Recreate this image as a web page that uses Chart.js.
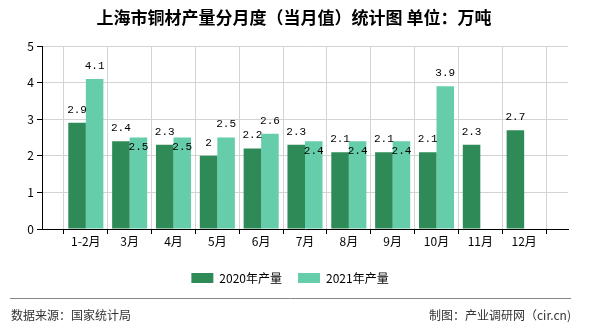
<!DOCTYPE html>
<html>
<head>
<meta charset="utf-8">
<script src="https://cdn.jsdelivr.net/npm/chart.js@4/dist/chart.umd.min.js"></script>
<style>
html,body{margin:0;padding:0;background:#fff;}
#wrap{width:590px;height:330px;position:relative;}
</style>
</head>
<body>
<div id="wrap"><canvas id="c" width="590" height="330"></canvas></div>
<script>
const titleText = '上海市铜材产量分月度（当月值）统计图 单位：万吨';
const categories = ['1-2月','3月','4月','5月','6月','7月','8月','9月','10月','11月','12月'];
const series2020Name = '2020年产量';
const series2021Name = '2021年产量';
const values2020 = [2.9, 2.4, 2.3, 2, 2.2, 2.3, 2.1, 2.1, 2.1, 2.3, 2.7];
const values2021 = [4.1, 2.5, 2.5, 2.5, 2.6, 2.4, 2.4, 2.4, 3.9, null, null];
const yTicks = [0, 1, 2, 3, 4, 5];
const sourceText = '数据来源：国家统计局';
const creditText = '制图：产业调研网（cir.cn)';

const pad = arr => [null, ...arr, null];
const labels = ['', ...categories, ''];

const CJK = '"Noto Sans CJK SC", "Noto Sans", sans-serif';

const valueLabels = {
  id: 'valueLabels',
  afterDatasetsDraw(chart) {
    const ctx = chart.ctx;
    const m0 = chart.getDatasetMeta(0);
    const m1 = chart.getDatasetMeta(1);
    ctx.save();
    ctx.font = '11px "Liberation Mono", "DejaVu Sans Mono", monospace';
    ctx.fillStyle = '#000';
    ctx.textAlign = 'center';
    ctx.textBaseline = 'middle';
    const d0 = chart.data.datasets[0].data;
    const d1 = chart.data.datasets[1].data;
    for (let i = 0; i < labels.length; i++) {
      const b0 = m0.data[i], b1 = m1.data[i];
      if (d0[i] != null) {
        ctx.fillText(String(d0[i]), b0.x, b0.y - 13);
      }
      if (d1[i] != null) {
        let y = b1.y - 13;
        if (d0[i] != null && Math.abs(b0.y - b1.y) < 12) y = b1.y + 10;
        ctx.fillText(String(d1[i]), b1.x, y);
      }
    }
    ctx.restore();
  }
};

const shiftBoxes = {
  id: 'shiftBoxes',
  afterLayout(chart) {
    if (chart.titleBlock) { chart.titleBlock.left += 10; chart.titleBlock.right += 10; }
    if (chart.legend) { chart.legend.left += 6; chart.legend.right += 6; }
  }
};

const footer = {
  id: 'footer',
  afterDraw(chart) {
    const ctx = chart.ctx;
    ctx.save();
    ctx.strokeStyle = '#888';
    ctx.lineWidth = 1;
    ctx.beginPath();
    ctx.moveTo(10, 298.5);
    ctx.lineTo(571, 298.5);
    ctx.stroke();
    ctx.font = '12px ' + CJK;
    ctx.fillStyle = '#333';
    ctx.textBaseline = 'middle';
    ctx.textAlign = 'left';
    ctx.fillText(sourceText, 11, 315);
    ctx.textAlign = 'right';
    ctx.fillText(creditText, 571, 315);
    ctx.restore();
  }
};

new Chart(document.getElementById('c'), {
  type: 'bar',
  data: {
    labels: labels,
    datasets: [
      { label: series2020Name, data: pad(values2020), backgroundColor: '#2e8b57' },
      { label: series2021Name, data: pad(values2021), backgroundColor: '#66cdaa' }
    ]
  },
  options: {
    responsive: false,
    animation: false,
    devicePixelRatio: 1,
    categoryPercentage: 0.8,
    barPercentage: 1.0,
    layout: { padding: { left: 0, right: 22, top: 0, bottom: 36 } },
    plugins: {
      title: {
        display: true,
        text: titleText,
        color: '#000',
        font: { family: CJK, size: 17, weight: 'bold' },
        padding: { top: 7, bottom: 18.6 }
      },
      legend: {
        display: true,
        position: 'bottom',
        labels: {
          boxWidth: 22,
          boxHeight: 10,
          padding: 16,
          color: '#000',
          font: { family: CJK, size: 12 }
        }
      },
      tooltip: { enabled: false }
    },
    scales: {
      x: {
        offset: false,
        afterFit(s) { s.height = 27; },
        grid: { color: '#d3d3d3', tickColor: '#000', tickLength: 5, drawOnChartArea: true },
        border: { color: '#000', width: 1 },
        ticks: { autoSkip: false, maxRotation: 0, color: '#000', padding: 0, font: { family: CJK, size: 12 } }
      },
      y: {
        min: 0,
        max: 5,
        afterFit(s) { s.width = 42; },
        afterBuildTicks(s) { s.ticks = yTicks.map(v => ({ value: v })); },
        grid: { color: '#d3d3d3', tickColor: '#000', tickLength: 5 },
        border: { color: '#000', width: 1 },
        ticks: { color: '#000', padding: 3, font: { family: CJK, size: 12 } }
      }
    }
  },
  plugins: [shiftBoxes, valueLabels, footer]
});
</script>
</body>
</html>
